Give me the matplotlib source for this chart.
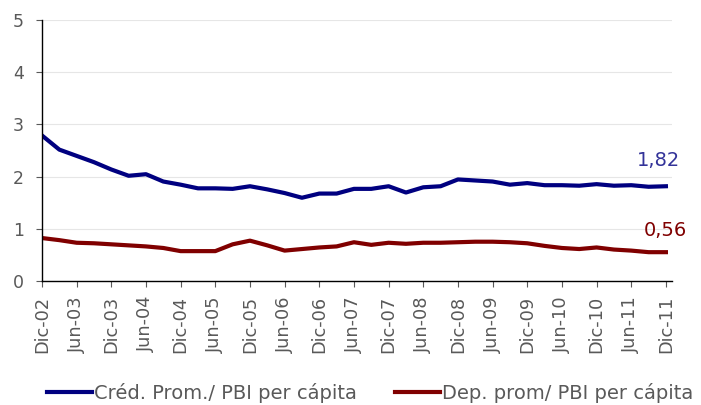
import matplotlib
matplotlib.use("Agg")
import matplotlib.pyplot as plt

# quarterly series, Dic-02 .. Dic-11
credito = [2.79, 2.52, 2.40, 2.28, 2.14, 2.02, 2.05, 1.91, 1.85, 1.78,
           1.78, 1.77, 1.82, 1.76, 1.69, 1.60, 1.68, 1.68, 1.77, 1.77,
           1.82, 1.70, 1.80, 1.82, 1.95, 1.93, 1.91, 1.85, 1.88, 1.84,
           1.84, 1.83, 1.86, 1.83, 1.84, 1.81, 1.82]
depositos = [0.83, 0.79, 0.74, 0.73, 0.71, 0.69, 0.67, 0.64, 0.58, 0.58,
             0.58, 0.71, 0.78, 0.69, 0.59, 0.62, 0.65, 0.67, 0.75, 0.70,
             0.74, 0.72, 0.74, 0.74, 0.75, 0.76, 0.76, 0.75, 0.73, 0.68,
             0.64, 0.62, 0.65, 0.61, 0.59, 0.56, 0.56]
tick_labels = ["Dic-02", "Jun-03", "Dic-03", "Jun-04", "Dic-04", "Jun-05",
               "Dic-05", "Jun-06", "Dic-06", "Jun-07", "Dic-07", "Jun-08",
               "Dic-08", "Jun-09", "Dic-09", "Jun-10", "Dic-10", "Jun-11",
               "Dic-11"]
names = ["Créd. Prom./ PBI per cápita", "Dep. prom/ PBI per cápita"]

blue = "#000080"
red = "#800000"
gray = "#595959"

plt.rcParams.update({"font.family": "DejaVu Sans", "font.size": 12})
fig = plt.figure(figsize=(7.01, 4.05), dpi=100)
ax = fig.add_axes([0.0599, 0.305, 0.8987, 0.646])

x = list(range(len(credito)))
ax.plot(x, credito, color=blue, lw=3, solid_joinstyle="round", label=names[0])
ax.plot(x, depositos, color=red, lw=3, solid_joinstyle="round", label=names[1])

ax.set_ylim(0, 5)
ax.set_yticks(range(6))
ax.set_xlim(0, 36.35)
ax.set_xticks(range(0, len(credito), 2))
ax.set_xticklabels(tick_labels, rotation=90)
ax.tick_params(axis="x", colors=gray, labelcolor=gray, length=4,
               pad=6.5, labelsize=12.8)
ax.tick_params(axis="y", colors=gray, labelcolor=gray, length=4.5,
               pad=8.5, labelsize=12.5)
ax.grid(axis="y", color="#e6e6e6", lw=0.8)
ax.set_axisbelow(True)
for s in ["top", "right"]:
    ax.spines[s].set_visible(False)
for s in ["left", "bottom"]:
    ax.spines[s].set_color("black")
    ax.spines[s].set_linewidth(1)

ax.annotate(f"{credito[-1]:.2f}".replace(".", ","), (x[-1], credito[-1]),
            xytext=(-5.4, 18.4), textcoords="offset points", ha="center",
            va="center", color="#333399", fontsize=14)
ax.annotate(f"{depositos[-1]:.2f}".replace(".", ","), (x[-1], depositos[-1]),
            xytext=(-0.7, 15.6), textcoords="offset points", ha="center",
            va="center", color="#800000", fontsize=14)

fig.legend(loc="center", bbox_to_anchor=(0.528, 0.030), ncol=2,
           frameon=False, handlelength=2.3, handletextpad=0.1,
           columnspacing=2.0, fontsize=14, labelcolor=gray,
           borderpad=0, borderaxespad=0)

fig.savefig("out.png", dpi=100)
plt.close(fig)
